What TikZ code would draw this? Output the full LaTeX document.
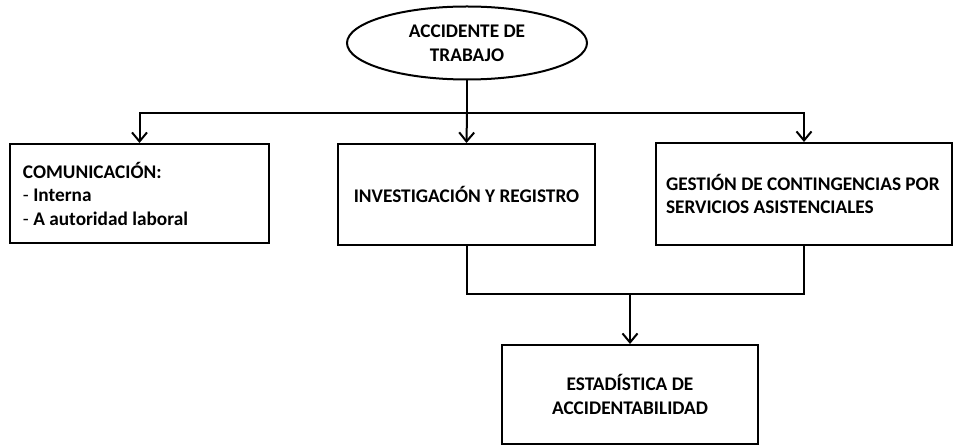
\documentclass[tikz,border=0pt]{standalone}
\usepackage{fontspec}
\setmainfont{Carlito}
\usepackage{tikz}
\usetikzlibrary{shapes.geometric,arrows.meta}

\begin{document}
\begin{tikzpicture}[x=1pt, y=-1pt, font=\fontsize{19.3}{23.5}\selectfont\bfseries]
    % Define styles
    \tikzstyle{event} = [ellipse, draw, line width=2pt, minimum width=240pt, minimum height=73pt, inner sep=0pt, align=center]
    \tikzstyle{task} = [rectangle, draw, line width=2pt, inner sep=0pt, align=center]
    \tikzstyle{flow} = [line width=2pt]
    \tikzstyle{arrow} = [line width=2pt, -{Straight Barb[length=9pt, width=15pt, line width=2pt]}]

    \useasboundingbox (0,0) rectangle (954,446);

    % Start event
    \node [event] (accidente) at (467,43) {ACCIDENTE DE\\TRABAJO};

    % Three branches
    \node [task, minimum width=259pt, minimum height=99pt, text width=233pt, align=flush left] (comunicacion) at (139.5,193.5)
        {COMUNICACIÓN:\\{\mdseries -} Interna\\{\mdseries -} A autoridad laboral};
    \node [task, minimum width=257pt, minimum height=101pt] (investigacion) at (466.5,194.5) {INVESTIGACIÓN Y REGISTRO};
    \node [task, minimum width=296pt, minimum height=102pt, text width=276pt, align=flush left] (gestion) at (804,194)
        {GESTIÓN DE CONTINGENCIAS POR\\SERVICIOS ASISTENCIALES};

    % Result
    \node [task, minimum width=256pt, minimum height=99pt] (estadistica) at (630,394.5) {ESTADÍSTICA DE\\ACCIDENTABILIDAD};

    % Split and merge points
    \coordinate (split) at (467,113);
    \coordinate (merge) at (630,294);

    % Split arrows
    \draw [flow] (accidente.south) -- (split);
    \draw [arrow] (split) -| (comunicacion.north);
    \draw [arrow] (split) -- (investigacion.north);
    \draw [arrow] (split) -| (gestion.north);

    % Merge arrows
    \draw [flow] (investigacion.south) |- (merge) -| (gestion.south);
    \draw [arrow] (merge) -- (estadistica.north);
\end{tikzpicture}
\end{document}
